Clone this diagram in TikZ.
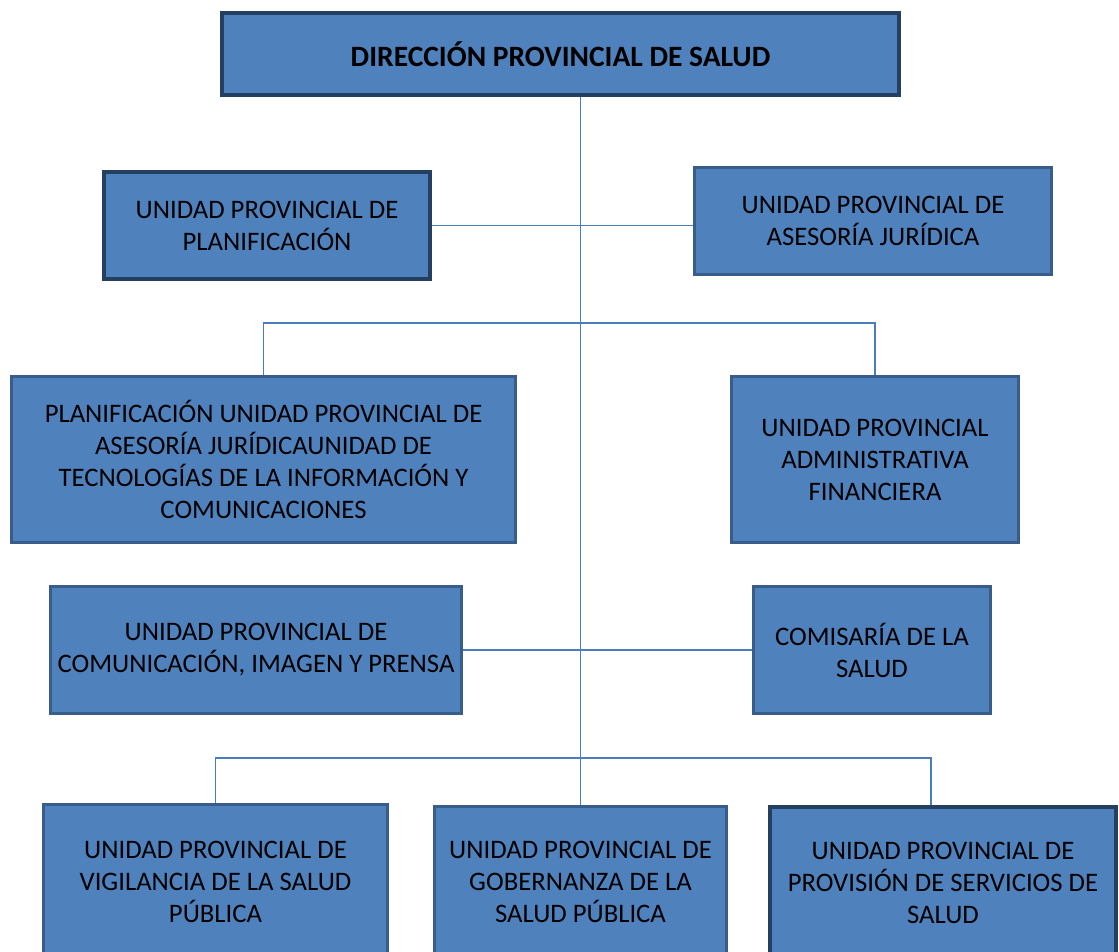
\documentclass[tikz,border=0pt]{standalone}
\usepackage{fontspec}
\setmainfont{Carlito}
\usetikzlibrary{positioning}
\definecolor{boxblue}{HTML}{4F81BD}
\definecolor{edgedark}{HTML}{243F60}
\definecolor{edgemid}{HTML}{385D8A}
\definecolor{linkblue}{HTML}{4A7EBB}

\begin{document}
\begin{tikzpicture}[
  x=1pt,y=-1pt,
  unit/.style={draw=edgemid,line width=3pt,fill=boxblue,align=center,
               inner sep=0pt,font=\fontsize{26.7}{32}\selectfont},
  keyunit/.style={unit,draw=edgedark,line width=4pt},
  link/.style={draw=linkblue,line width=1.6pt}
]
\useasboundingbox (0,0) rectangle (1119,951);
\node[keyunit,minimum width=677,minimum height=82,font=\fontsize{29.5}{34}\selectfont\bfseries]
  (dir) at (560.5,54) {DIRECCIÓN PROVINCIAL DE SALUD};
\node[keyunit,minimum width=326,minimum height=107] (plan) at (267,225.5)
  {UNIDAD PROVINCIAL DE\\PLANIFICACIÓN};
\node[unit,minimum width=357,minimum height=107] (ases) at (873,221)
  {UNIDAD PROVINCIAL DE\\ASESORÍA JURÍDICA};
\node[unit,minimum width=504,minimum height=166] (tic) at (263.5,459.5)
  {PLANIFICACIÓN UNIDAD PROVINCIAL DE\\ASESORÍA JURÍDICAUNIDAD DE\\
   TECNOLOGÍAS DE LA INFORMACIÓN Y\\COMUNICACIONES};
\node[unit,minimum width=287,minimum height=166] (afin) at (875,459.5)
  {UNIDAD PROVINCIAL\\ADMINISTRATIVA\\FINANCIERA};
\node[unit,minimum width=411,minimum height=127] (com) at (256,650)
  {UNIDAD PROVINCIAL DE\\COMUNICACIÓN, IMAGEN Y PRENSA};
\node[unit,minimum width=237,minimum height=127] (comi) at (872,650)
  {COMISARÍA DE LA\\SALUD};
\node[unit,minimum width=344,minimum height=155] (vig) at (215.5,882)
  {UNIDAD PROVINCIAL DE\\VIGILANCIA DE LA SALUD\\PÚBLICA};
\node[unit,minimum width=292,minimum height=151] (gob) at (580.5,882)
  {UNIDAD PROVINCIAL DE\\GOBERNANZA DE LA\\SALUD PÚBLICA};
\node[keyunit,minimum width=346,minimum height=152] (prov) at (943,883)
  {UNIDAD PROVINCIAL DE\\PROVISIÓN DE SERVICIOS DE\\SALUD};
% trunk and branches
\coordinate (b1) at (580.5,323);
\coordinate (b2) at (580.5,758);
\draw[link] (gob.north) -- (gob.north |- dir.south);
\draw[link] (plan.east) -- (ases.west |- plan.east);
\draw[link] (tic.north) |- (b1) -| (afin.north);
\draw[link] (com.east) -- (comi.west);
\draw[link] (vig.north) |- (b2) -| ([xshift=-12pt]prov.north);
\end{tikzpicture}
\end{document}
